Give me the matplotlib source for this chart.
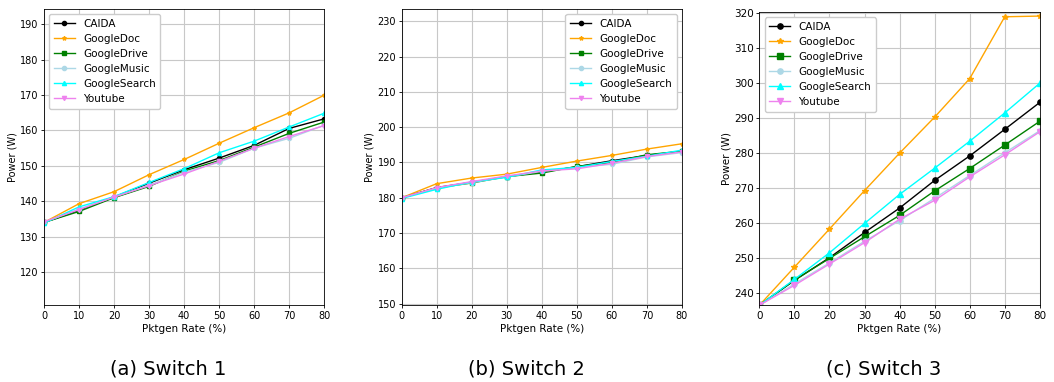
import matplotlib
matplotlib.use("Agg")
import matplotlib.pyplot as plt

# pktgen rate (%)
rate = [0, 10, 20, 30, 40, 50, 60, 70, 80]
names = ["CAIDA", "GoogleDoc", "GoogleDrive", "GoogleMusic", "GoogleSearch", "Youtube"]

# Switch 1 power (W)
s1_caida = [134.0, 137.4, 141.2, 145.1, 148.9, 152.2, 155.8, 160.6, 163.3]
s1_doc = [134.0, 139.3, 142.7, 147.5, 151.8, 156.4, 160.8, 165.0, 170.0]
s1_drive = [134.0, 137.1, 141.0, 144.2, 148.5, 151.5, 155.3, 159.2, 162.4]
s1_music = [134.0, 137.8, 141.2, 144.5, 148.2, 151.0, 155.0, 157.8, 161.5]
s1_search = [133.8, 138.4, 141.3, 145.3, 149.2, 153.7, 157.0, 161.0, 164.9]
s1_youtube = [134.2, 137.6, 141.2, 144.4, 147.7, 151.3, 155.0, 158.3, 161.4]

# Switch 2 power (W)
s2_caida = [180.0, 182.9, 184.4, 186.0, 187.3, 188.8, 190.5, 192.0, 193.2]
s2_doc = [180.0, 184.0, 185.6, 186.7, 188.6, 190.4, 192.0, 193.8, 195.3]
s2_drive = [180.0, 182.8, 184.2, 186.0, 187.0, 188.9, 190.0, 192.2, 193.2]
s2_music = [180.0, 182.7, 184.3, 185.9, 187.5, 188.6, 189.5, 191.6, 192.8]
s2_search = [179.8, 182.4, 184.5, 185.8, 187.9, 188.6, 190.3, 191.8, 193.5]
s2_youtube = [180.0, 182.9, 184.6, 186.2, 187.6, 188.2, 189.8, 191.7, 193.0]

# Switch 3 power (W)
s3_caida = [236.4, 243.5, 250.0, 257.2, 264.2, 272.1, 279.1, 286.7, 294.4]
s3_doc = [236.4, 247.3, 258.2, 269.2, 279.9, 290.2, 301.2, 318.9, 319.1]
s3_drive = [236.4, 243.6, 249.8, 256.0, 262.1, 269.1, 275.5, 282.2, 289.0]
s3_music = [236.4, 242.5, 248.5, 254.7, 260.6, 267.0, 273.5, 280.0, 286.3]
s3_search = [236.4, 243.8, 251.4, 259.8, 268.1, 275.6, 283.3, 291.4, 299.9]
s3_youtube = [236.4, 242.1, 248.2, 254.3, 261.0, 266.4, 273.1, 279.4, 286.0]

styles = [("black", "o"), ("orange", "*"), ("green", "s"),
          ("lightblue", "o"), ("cyan", "^"), ("violet", "v")]

panels = [
    ([s1_caida, s1_doc, s1_drive, s1_music, s1_search, s1_youtube],
     (110.6, 194.3), range(120, 191, 10), "upper left", "(a) Switch 1",
     [0.0417, 0.201, 0.266, 0.775], 3.0, 7.0),
    ([s2_caida, s2_doc, s2_drive, s2_music, s2_search, s2_youtube],
     (149.6, 233.4), range(150, 231, 10), "upper right", "(b) Switch 2",
     [0.381, 0.201, 0.266, 0.775], 3.0, 7.0),
    ([s3_caida, s3_doc, s3_drive, s3_music, s3_search, s3_youtube],
     (236.4, 320.2), range(240, 321, 10), "upper left", "(c) Switch 3",
     [0.7205, 0.201, 0.266, 0.767], 3.8, 7.5),
]

narrow = ["Liberation Sans Narrow", "DejaVu Sans Condensed", "DejaVu Sans"]

fig = plt.figure(figsize=(10.54, 3.82), dpi=100)
for series, ylim, yt, loc, cap, pos, ms, fs in panels:
    ax = fig.add_axes(pos)
    for name, vals, (c, m) in zip(names, series, styles):
        ax.plot(rate, vals, color=c, marker=m, markersize=ms, linewidth=1.0, label=name)
    ax.set_xlim(0, 80)
    ax.set_ylim(*ylim)
    ax.set_xticks(rate)
    ax.set_yticks(list(yt))
    ax.grid(True, color="#c8c8c8", linewidth=0.8)
    ax.tick_params(labelsize=fs, length=2.5, width=0.6, pad=1.5)
    ax.set_ylabel("Power (W)", fontsize=fs, labelpad=2)
    ax.set_xlabel("Pktgen Rate (%)", fontsize=7.5, family=narrow, labelpad=2)
    for s in ax.spines.values():
        s.set_linewidth(0.6)
    ax.legend(loc=loc, fontsize=7.5, handlelength=2.0, labelspacing=0.48,
              borderpad=0.45, framealpha=1.0, edgecolor="#cccccc")
    cx = pos[0] + pos[2] / 2 - 0.015
    fig.text(cx, 0.035, cap, ha="center", va="center", fontsize=14, family=narrow)

fig.savefig("out.png", dpi=100)
